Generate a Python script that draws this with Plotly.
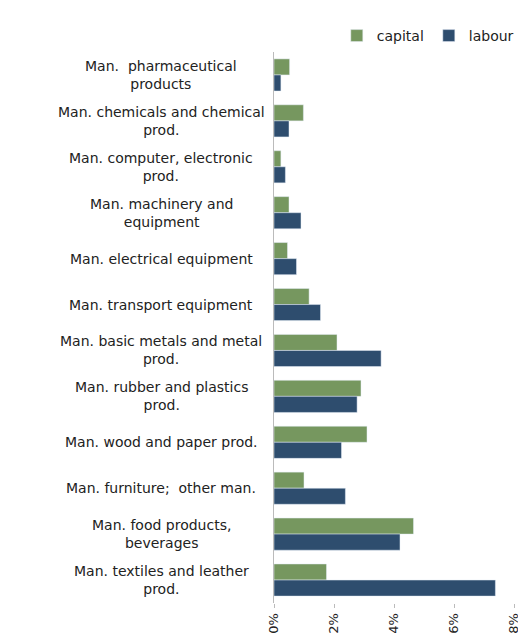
import plotly.graph_objects as go

categories = ["Man.  pharmaceutical<br>products", "Man. chemicals and chemical<br>prod.",
              "Man. computer, electronic<br>prod.", "Man. machinery and<br>equipment",
              "Man. electrical equipment", "Man. transport equipment",
              "Man. basic metals and metal<br>prod.", "Man. rubber and plastics<br>prod.",
              "Man. wood and paper prod.", "Man. furniture;  other man.",
              "Man. food products,<br>beverages", "Man. textiles and leather<br>prod."]
capital = [0.52, 0.98, 0.23, 0.5, 0.45, 1.17, 2.1, 2.9, 3.1, 1.0, 4.65, 1.75]
labour = [0.23, 0.5, 0.38, 0.9, 0.75, 1.55, 3.57, 2.77, 2.25, 2.38, 4.2, 7.38]
ticks = [0, 2, 4, 6, 8]

fig = go.Figure()
fig.add_bar(y=categories, x=capital, orientation="h", name="capital", marker_color="#76975f")
fig.add_bar(y=categories, x=labour, orientation="h", name="labour", marker_color="#2e4d6e")
for c in categories:
    fig.add_annotation(x=-0.47, xref="paper", y=c, yref="y", text=c, showarrow=False,
                       align="center", xanchor="center", font=dict(size=14))
fig.update_layout(
    width=526, height=639, barmode="group", bargap=0.3, bargroupgap=0,
    margin=dict(l=266, r=20, t=38, b=44),
    plot_bgcolor="white", paper_bgcolor="white",
    font=dict(family="DejaVu Sans", size=13, color="#222"),
    legend=dict(orientation="h", x=1.02, xanchor="right", y=1.0, yanchor="bottom",
                traceorder="normal", font=dict(size=14), itemwidth=30),
    xaxis=dict(range=[0, 8], tickvals=ticks, ticktext=[f"{t}%" for t in ticks],
               tickangle=-90, showgrid=False, zeroline=False, showline=False,
               ticks="outside", tickcolor="#bbb", ticklen=4, automargin=False,
               tickfont=dict(size=13)),
    yaxis=dict(autorange="reversed", showline=True, linecolor="#bbb", ticks="",
               showticklabels=False, automargin=False),
)
fig.write_html("out.html")
